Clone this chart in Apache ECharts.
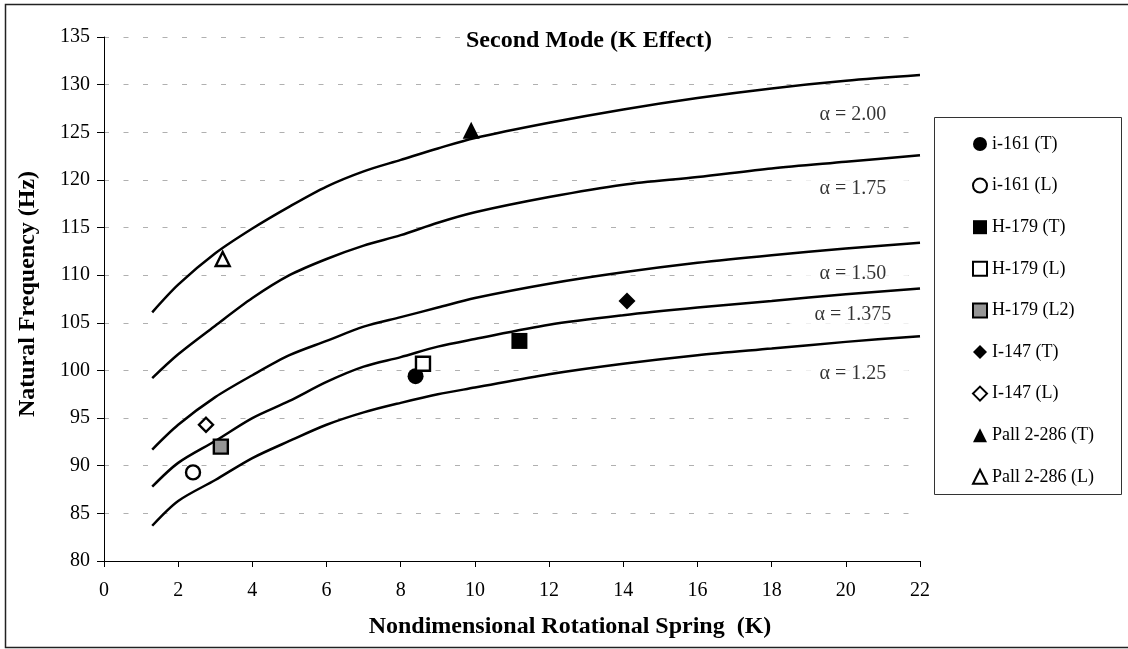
<!DOCTYPE html>
<html>
<head>
<meta charset="utf-8">
<script src="https://cdn.jsdelivr.net/npm/echarts@6/dist/echarts.min.js"></script>
<style>
  html, body { margin: 0; padding: 0; background: #fff; }
  #chart { width: 1128px; height: 649px; }
</style>
</head>
<body>
<div id="chart"></div>
<script>
// K values where the curves were read
var curveK = [1.3, 2, 3, 4, 5, 6, 7, 8, 9, 10, 12, 14, 16, 18, 20, 22];
// natural frequency (Hz) for each alpha
var alpha200 = [106.1, 109.0, 112.3, 114.9, 117.2, 119.3, 120.9, 122.1, 123.3, 124.4, 126.0, 127.4, 128.6, 129.6, 130.4, 131.0];
var alpha175 = [99.2, 101.7, 104.7, 107.6, 110.0, 111.7, 113.1, 114.2, 115.5, 116.6, 118.2, 119.5, 120.3, 121.2, 121.9, 122.6];
var alpha150 = [91.7, 94.3, 97.2, 99.5, 101.6, 103.1, 104.6, 105.6, 106.6, 107.6, 109.1, 110.3, 111.3, 112.1, 112.8, 113.4];
var alpha1375 = [87.8, 90.3, 92.6, 95.0, 96.8, 98.8, 100.4, 101.4, 102.5, 103.3, 104.8, 105.8, 106.6, 107.3, 108.0, 108.6];
var alpha125 = [83.7, 86.3, 88.5, 90.8, 92.6, 94.3, 95.6, 96.6, 97.5, 98.2, 99.6, 100.7, 101.6, 102.3, 103.0, 103.6];

// alpha labels on the right
var labelText = ['α = 2.00', 'α = 1.75', 'α = 1.50', 'α = 1.375', 'α = 1.25'];
var labelK = [20.15, 20.15, 20.15, 20.15, 20.15];
var labelF = [126.8, 119.1, 110.2, 105.8, 99.7];

// test points
var pointNames = ['i-161 (T)', 'i-161 (L)', 'H-179 (T)', 'H-179 (L)', 'H-179 (L2)', 'I-147 (T)', 'I-147 (L)', 'Pall 2-286 (T)', 'Pall 2-286 (L)'];
var pointK = [8.4, 2.4, 11.2, 8.6, 3.15, 14.1, 2.75, 9.9, 3.2];
var pointF = [99.4, 89.3, 103.1, 100.7, 92.0, 107.3, 94.3, 125.2, 111.7];

var font = '"Liberation Serif", "Times New Roman", serif';

function curve(vals) {
    var out = [];
    for (var i = 0; i < curveK.length; i++) out.push([curveK[i], vals[i]]);
    return out;
}

// marker look for each point: symbol, fill, border
var markerStyle = [
    { symbol: 'circle', fill: '#000', border: 0, size: 16 },
    { symbol: 'circle', fill: '#fff', border: 2.4, size: 14 },
    { symbol: 'rect', fill: '#000', border: 0, size: 16 },
    { symbol: 'rect', fill: '#fff', border: 2.4, size: 14 },
    { symbol: 'rect', fill: '#969696', border: 2.4, size: 14 },
    { symbol: 'diamond', fill: '#000', border: 0, size: 17 },
    { symbol: 'diamond', fill: '#fff', border: 2.4, size: 14 },
    { symbol: 'triangle', fill: '#000', border: 0, size: 17 },
    { symbol: 'triangle', fill: '#fff', border: 2.4, size: 14 }
];

var series = [];
[alpha200, alpha175, alpha150, alpha1375, alpha125].forEach(function (vals, i) {
    series.push({
        name: 'curve' + i,
        type: 'line',
        data: curve(vals),
        showSymbol: false,
        smooth: 0.3,
        lineStyle: { color: '#000', width: 2.5 },
        silent: true,
        z: 2
    });
});

var labelData = [];
for (var i = 0; i < labelText.length; i++) {
    labelData.push({ name: labelText[i], value: [labelK[i], labelF[i]] });
}
series.push({
    name: 'labels',
    type: 'scatter',
    symbolSize: 0,
    data: labelData,
    silent: true,
    z: 1,
    label: {
        show: true,
        position: 'inside',
        formatter: '{b}',
        fontFamily: font,
        fontSize: 20,
        color: '#000',
        backgroundColor: '#fff',
        padding: [0, 22, 0, 25]
    }
});

for (var j = 0; j < pointNames.length; j++) {
    var m = markerStyle[j];
    series.push({
        name: pointNames[j],
        type: 'scatter',
        symbol: m.symbol,
        symbolSize: m.size,
        data: [[pointK[j], pointF[j]]],
        itemStyle: {
            color: m.fill,
            borderColor: '#000',
            borderWidth: m.border,
            opacity: 1
        },
        z: 5
    });
}

var chart = echarts.init(document.getElementById('chart'));
chart.setOption({
    animation: false,
    backgroundColor: '#fff',
    title: {
        text: 'Second Mode (K Effect)',
        left: 460,
        top: 27,
        padding: [2, 6],
        backgroundColor: '#fff',
        textStyle: { fontFamily: font, fontSize: 24, fontWeight: 'bold', color: '#000' }
    },
    grid: { left: 104, right: 208, top: 37, bottom: 88 },
    xAxis: {
        type: 'value',
        min: 0,
        max: 22,
        interval: 2,
        axisLine: { lineStyle: { color: '#000', width: 1 } },
        axisTick: { length: 6, lineStyle: { color: '#000' } },
        axisLabel: { margin: 20, fontFamily: font, fontSize: 20, color: '#000' },
        splitLine: { show: false }
    },
    yAxis: {
        type: 'value',
        min: 80,
        max: 135,
        interval: 5,
        axisLine: { show: true, lineStyle: { color: '#000', width: 1 } },
        axisTick: { show: true, length: 7, lineStyle: { color: '#000' } },
        axisLabel: { margin: 14, fontFamily: font, fontSize: 20, color: '#000' },
        splitLine: { show: true, lineStyle: { color: '#b0b0b0', type: [5, 14.5], width: 1 } }
    },
    legend: {
        data: pointNames,
        orient: 'vertical',
        left: 967,
        top: 130,
        itemWidth: 14,
        itemHeight: 14,
        itemGap: 23.6,
        selectedMode: false,
        textStyle: { fontFamily: font, fontSize: 18, color: '#000' }
    },
    graphic: [
        {
            type: 'rect',
            shape: { x: 5.5, y: 4.5, width: 1130, height: 643 },
            style: { fill: 'none', stroke: '#222', lineWidth: 1.5 },
            silent: true
        },
        {
            type: 'rect',
            shape: { x: 934.5, y: 117.5, width: 187, height: 377 },
            style: { fill: 'none', stroke: '#333', lineWidth: 1 },
            silent: true
        },
        {
            type: 'text',
            x: 28,
            y: 294,
            rotation: Math.PI / 2,
            style: {
                text: 'Natural Frequency (Hz)',
                font: 'bold 24px ' + font,
                fill: '#000',
                align: 'center',
                verticalAlign: 'middle'
            },
            silent: true
        },
        {
            type: 'text',
            x: 570,
            y: 627,
            style: {
                text: 'Nondimensional Rotational Spring  (K)',
                font: 'bold 24px ' + font,
                fill: '#000',
                align: 'center',
                verticalAlign: 'middle'
            },
            silent: true
        }
    ],
    series: series
});
</script>
</body>
</html>
